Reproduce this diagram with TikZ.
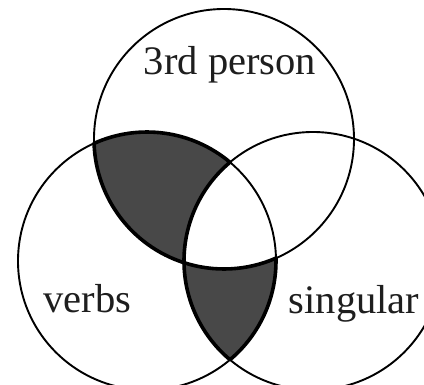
\documentclass[tikz,border=0pt]{standalone}
\usepackage{fontspec}
\setmainfont{Liberation Serif}
\definecolor{shade}{RGB}{72,72,72}
\definecolor{ink}{RGB}{30,30,30}
\tikzset{
  setcircle/.style={draw=black, line width=1.9pt},
  region/.style={fill=shade, draw=black, line width=3.6pt, line join=round},
  setlabel/.style={anchor=base, text=ink, font=\fontsize{40.5}{45}\selectfont, inner sep=0pt}
}
\begin{document}
\begin{tikzpicture}[x=1pt,y=1pt]
\clip (0,0) rectangle (424,384);
\useasboundingbox (0,0) rectangle (424,384);
\fill[white] (0,0) rectangle (424,384);
% circle centres
\coordinate (cT) at (224,245);
\coordinate (cV) at (147,123);
\coordinate (cS) at (313,123);
% intersection points
\coordinate (A) at (94.07,240.63);
\coordinate (C) at (184.02,121.30);
% circles
\draw[setcircle] (cT) circle[radius=130];
\draw[setcircle] (cV) circle[radius=129];
\draw[setcircle] (cS) circle[radius=129];
% shaded regions
\draw[region] (A) arc[start angle=114.22, end angle=49.95, radius=129]
  arc[start angle=130.05, end angle=180.76, radius=129]
  arc[start angle=252.09, end angle=181.93, radius=130] -- cycle;
\draw[region] (C) arc[start angle=252.09, end angle=293.56, radius=130]
  arc[start angle=1.26, end angle=-49.95, radius=129]
  arc[start angle=229.95, end angle=180.76, radius=129] -- cycle;
% labels
\node[setlabel] (lT) at (230,309) {3rd person};
\node[setlabel] (lV) at (87.5,72) {verbs};
\node[setlabel] (lS) at (354,71) {singular};
\end{tikzpicture}
\end{document}
